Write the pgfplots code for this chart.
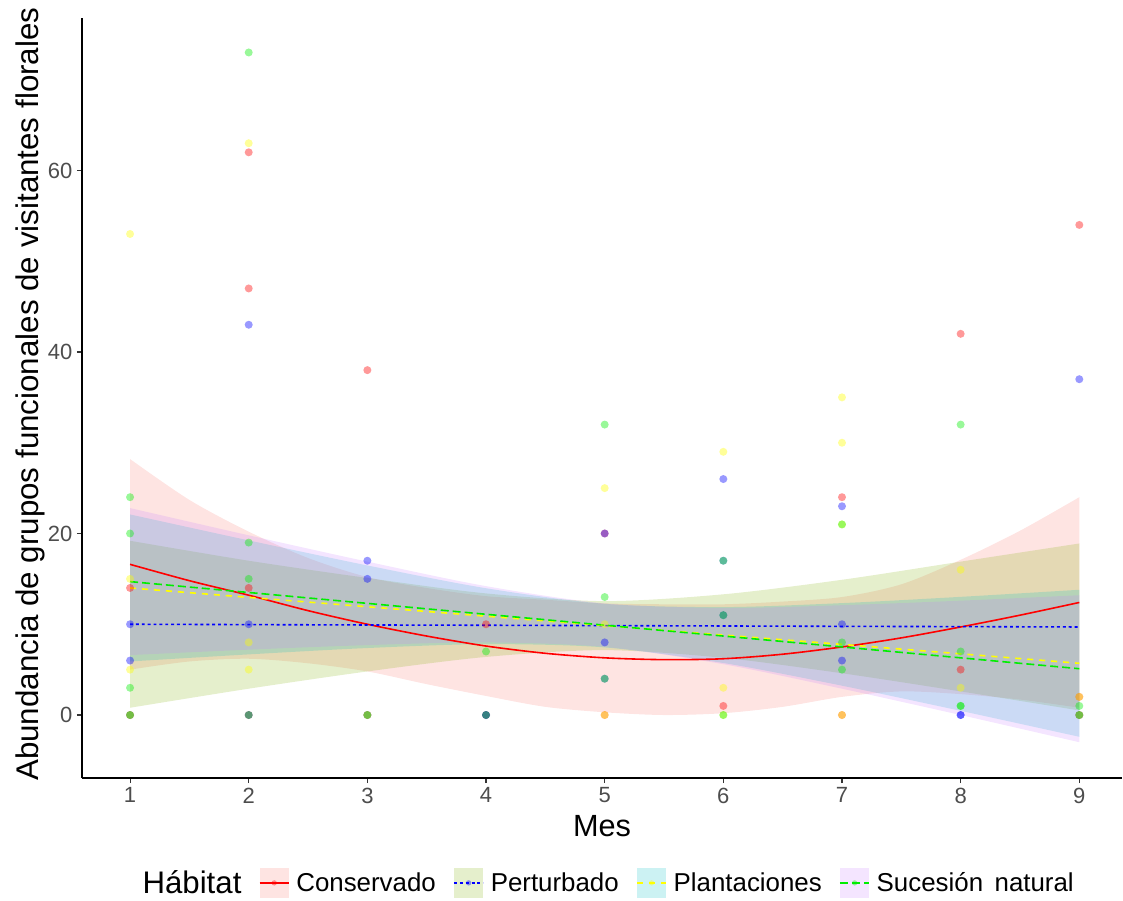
\documentclass[border=0pt]{standalone}
\usepackage{pgfplots}
\pgfplotsset{compat=1.18}
\usepackage{pgfplotstable}
\usepgfplotslibrary{fillbetween}
\usepackage{fontspec}
\setmainfont{Liberation Sans}

\definecolor{fillR}{HTML}{F8766D}
\definecolor{fillG}{HTML}{7CAE00}
\definecolor{fillC}{HTML}{00BFC4}
\definecolor{fillP}{HTML}{C77CFF}
\definecolor{lnR}{HTML}{FF0000}
\definecolor{lnB}{HTML}{0000FF}
\definecolor{lnY}{HTML}{FFFF00}
\definecolor{lnG}{HTML}{00EE00}
\definecolor{gray30}{HTML}{4D4D4D}

\pgfplotstableread{
x fit lo hi
1 16.6 5.0 28.2
1.5 14.8 5.9 23.7
2 13.2 6.2 20.2
2.5 11.5 5.7 17.3
3 10.0 4.8 15.2
3.5 8.7 3.4 14.0
4 7.6 2.1 13.1
4.5 6.8 0.9 12.7
5 6.3 0.3 12.3
5.5 6.1 0.0 12.2
6 6.2 0.2 12.2
6.5 6.7 0.9 12.5
7 7.5 2.0 13.0
7.5 8.5 2.6 14.4
8 9.7 2.3 17.1
8.5 11.0 1.7 20.3
9 12.4 0.8 24.0
}\cons

\pgfplotstableread{
x fit lo hi
1 10.0 0.8 19.2
2 9.96 2.9 17.0
3 9.92 4.8 15.1
4 9.89 6.4 13.4
5 9.85 7.15 12.55
6 9.81 6.3 13.3
7 9.77 4.6 14.9
8 9.74 2.6 16.9
9 9.7 0.5 18.9
}\pert

\pgfplotstableread{
x fit lo hi
1 14.0 5.9 22.1
2 12.96 6.68 19.24
3 11.93 7.38 16.48
4 10.89 7.81 13.97
5 9.85 7.45 12.25
6 8.81 5.73 11.89
7 7.78 3.23 12.33
8 6.74 0.46 13.02
9 5.7 -2.4 13.8
}\plant

\pgfplotstableread{
x fit lo hi
1 14.7 6.6 22.8
2 13.5 7.2 19.8
3 12.3 7.7 16.9
4 11.1 8.0 14.2
5 9.9 7.5 12.3
6 8.7 5.6 11.8
7 7.5 2.9 12.1
8 6.3 0.0 12.6
9 5.1 -3.0 13.2
}\suc

\pgfplotsset{
  pts/.style={forget plot, only marks, mark=*, mark size=3pt, color=#1,
    mark options={fill=#1, fill opacity=0.4, draw opacity=0}},
}

\begin{document}
\begin{tikzpicture}
\begin{axis}[
  at={(0,0)}, anchor=south west,
  scale only axis, width=780pt, height=570pt,
  xmin=0.595, xmax=9.36, ymin=-6.94, ymax=76.8,
  axis x line=bottom, axis y line=left,
  axis line style={-, line width=0.9pt, black},
  xtick={1,2,3,4,5,6,7,8,9}, ytick={0,20,40,60},
  tick align=outside, major tick length=3.75pt,
  tick style={line width=0.8pt, color=black!80},
  /pgf/number format/assume math mode=true,
  ticklabel style={font=\fontsize{16.5}{18}\selectfont, color=gray30},
  xlabel={Mes}, ylabel={Abundancia de grupos funcionales de visitantes florales},
  every axis x label/.style={at={(axis description cs:0.5,-0.0632)}, anchor=center, font=\fontsize{23}{26}\selectfont},
  every axis y label/.style={at={(axis description cs:-0.05,0.505)}, rotate=90, anchor=center, font=\fontsize{23.5}{26}\selectfont},
  legend columns=5,
  legend style={at={(axis description cs:0.504,-0.138)}, anchor=center, draw=none, fill=none,
    font=\fontsize{19.4}{22}\selectfont,
    /tikz/every odd column/.append style={column sep=3pt},
    /tikz/every even column/.append style={column sep=11pt}},
  legend cell align=left,
]
% legend
\addlegendimage{empty legend}
\addlegendentry{\fontsize{23.4}{26}\selectfont Hábitat}
\addlegendimage{legend image code/.code={
  \path[fill=fillR, fill opacity=0.2, draw=none] (0pt,-11pt) rectangle (22pt,11pt);
  \draw[lnR, line width=1.2pt] (0pt,0pt) -- (22pt,0pt);
  \path[fill=lnR, fill opacity=0.4, draw=none] (11pt,0pt) circle (2pt);}}
\addlegendentry{Conservado}
\addlegendimage{legend image code/.code={
  \path[fill=fillG, fill opacity=0.2, draw=none] (0pt,-11pt) rectangle (22pt,11pt);
  \draw[lnB, line width=1.2pt, dash pattern=on 2.2pt off 2.2pt] (0pt,0pt) -- (22pt,0pt);
  \path[fill=lnB, fill opacity=0.4, draw=none] (11pt,0pt) circle (2pt);}}
\addlegendentry{Perturbado}
\addlegendimage{legend image code/.code={
  \path[fill=fillC, fill opacity=0.2, draw=none] (0pt,-11pt) rectangle (22pt,11pt);
  \draw[lnY, line width=1.2pt, dash pattern=on 4.5pt off 4.5pt] (0pt,0pt) -- (22pt,0pt);
  \path[fill=lnY, fill opacity=0.4, draw=none] (11pt,0pt) circle (2pt);}}
\addlegendentry{Plantaciones}
\addlegendimage{legend image code/.code={
  \path[fill=fillP, fill opacity=0.2, draw=none] (0pt,-11pt) rectangle (22pt,11pt);
  \draw[lnG, line width=1.2pt, dash pattern=on 6pt off 3pt] (0pt,0pt) -- (22pt,0pt);
  \path[fill=lnG, fill opacity=0.4, draw=none] (11pt,0pt) circle (2pt);}}
\addlegendentry{Sucesión\, natural}

% points
\addplot[pts=lnR] coordinates {
(1,14)(1,0)(2,62)(2,47)(2,14)(2,0)(3,38)(3,0)(4,10)(4,0)(5,20)(5,0)(6,1)(7,24)(7,0)(8,42)(8,5)(9,54)(9,2)(9,0)};
\addplot[pts=lnB] coordinates {
(1,10)(1,6)(1,0)(2,43)(2,10)(2,0)(3,17)(3,15)(3,0)(4,0)(4,0)(5,20)(5,8)(5,4)(6,26)(6,17)(6,11)(7,23)(7,10)(7,6)(8,0)(8,0)(9,37)(9,0)};
\addplot[pts=lnY] coordinates {
(1,53)(1,15)(1,5)(1,0)(2,63)(2,8)(2,5)(3,0)(5,25)(5,10)(5,0)(6,29)(6,3)(6,0)(7,35)(7,30)(7,21)(7,0)(8,16)(8,3)(9,2)(9,0)};
\addplot[pts=lnG] coordinates {
(1,24)(1,20)(1,3)(1,0)(2,73)(2,19)(2,15)(2,0)(3,0)(4,7)(4,0)(5,32)(5,13)(5,4)(6,17)(6,11)(6,0)(7,21)(7,8)(7,5)(8,32)(8,7)(8,1)(8,1)(9,1)(9,0)};

% Conservado
\addplot[forget plot, draw=none, smooth, name path=cU] table[x=x,y=hi]{\cons};
\addplot[forget plot, draw=none, smooth, name path=cL] table[x=x,y=lo]{\cons};
\addplot[forget plot, fill=fillR, fill opacity=0.2, draw=none] fill between[of=cU and cL];
\addplot[forget plot, lnR, line width=1.2pt, smooth] table[x=x,y=fit]{\cons};
% Perturbado
\addplot[forget plot, draw=none, smooth, name path=pU] table[x=x,y=hi]{\pert};
\addplot[forget plot, draw=none, smooth, name path=pL] table[x=x,y=lo]{\pert};
\addplot[forget plot, fill=fillG, fill opacity=0.2, draw=none] fill between[of=pU and pL];
\addplot[forget plot, lnB, line width=1.2pt, dash pattern=on 2.2pt off 2.2pt] table[x=x,y=fit]{\pert};
% Plantaciones
\addplot[forget plot, draw=none, smooth, name path=lU] table[x=x,y=hi]{\plant};
\addplot[forget plot, draw=none, smooth, name path=lL] table[x=x,y=lo]{\plant};
\addplot[forget plot, fill=fillC, fill opacity=0.2, draw=none] fill between[of=lU and lL];
\addplot[forget plot, lnY, line width=1.2pt, dash pattern=on 4.5pt off 4.5pt] table[x=x,y=fit]{\plant};
% Sucesion natural
\addplot[forget plot, draw=none, smooth, name path=sU] table[x=x,y=hi]{\suc};
\addplot[forget plot, draw=none, smooth, name path=sL] table[x=x,y=lo]{\suc};
\addplot[forget plot, fill=fillP, fill opacity=0.2, draw=none] fill between[of=sU and sL];
\addplot[forget plot, lnG, line width=1.2pt, dash pattern=on 6pt off 3pt] table[x=x,y=fit]{\suc};
\end{axis}
\useasboundingbox (-61.5pt,-90.75pt) rectangle (780.75pt,583.5pt);
\end{tikzpicture}
\end{document}
